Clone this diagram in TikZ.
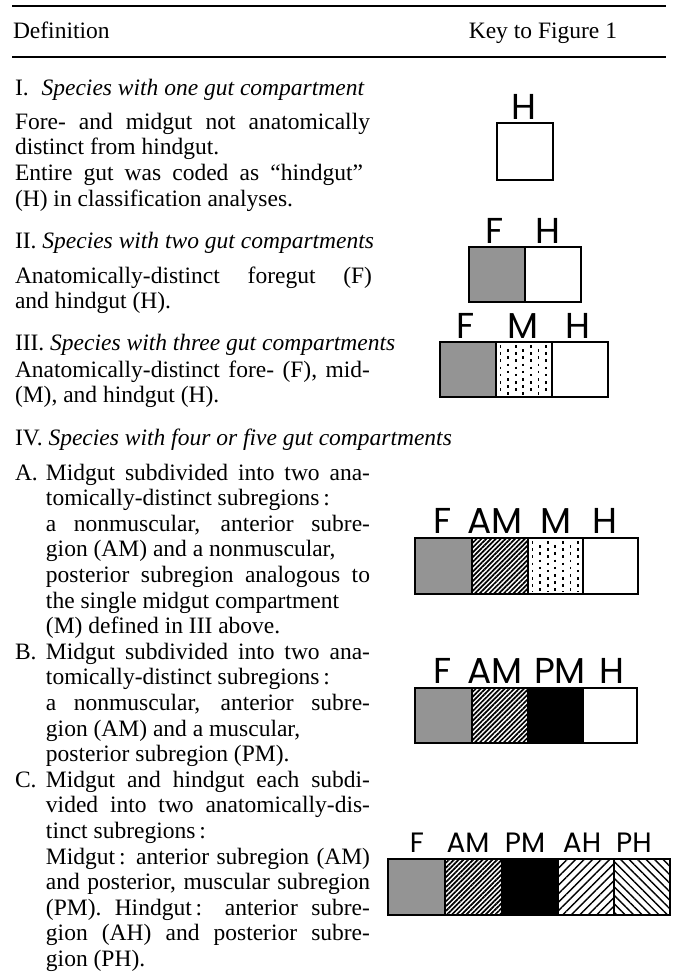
\documentclass[tikz,border=0pt]{standalone}
\usepackage{fontspec}
\setmainfont{Liberation Serif}
\newfontfamily\keyfont{Poppins}
\usetikzlibrary{patterns.meta}
\newcommand\jl[2]{\hbox to #1pt{#2}}
\newcommand\nl[1]{\hbox{#1}}
\newcommand\mdots[4]{%
  \foreach \k in {0,...,6}{%
    \pgfmathsetmacro\xx{#1+4.5+\k*7.6}%
    \pgfmathsetmacro\ph{mod(\k,2)*3}%
    \draw[mdot,dash phase=\ph pt] (\xx,#2+3) -- (\xx,#4-2);}}
\begin{document}
\begin{tikzpicture}[x=1pt,y=-1pt,
  txt/.style={anchor=base west,inner sep=0pt,outer sep=0pt,font=\fontsize{23.5}{25.6}\selectfont},
  lab/.style={anchor=base,inner sep=0pt,font=\keyfont\fontsize{36}{36}\selectfont},
  labs/.style={anchor=base,inner sep=0pt,font=\keyfont\fontsize{28}{28}\selectfont},
  box/.style={draw=black,line width=2.6pt,line join=miter},
  rulel/.style={draw=black,line width=1.3pt},
  foref/.style={fill=black!42},
  antm/.style={pattern={Lines[angle=45,distance=3.4pt,line width=1.7pt]}},
  posm/.style={fill=black},
  anth/.style={pattern={Lines[angle=45,distance=6pt,line width=1.4pt]}},
  posh/.style={pattern={Lines[angle=-45,distance=6pt,line width=1.4pt]}},
  mdot/.style={line width=1.9pt,dash pattern=on 2.6pt off 4.6pt}]
\useasboundingbox (0,0) rectangle (675,977);
\fill[white] (0,0) rectangle (675,977);
% header
\draw[rulel] (12,6) -- (666,6);
\draw[rulel] (12,57) -- (666,57);
\node[txt] (hdef) at (13,38) {Definition};
\node[txt,anchor=base east] (hkey) at (617,38) {Key to Figure 1};
% I
\node[txt] (t1h) at (15,95) {I.\hspace{0.55em}\textit{Species with one gut compartment}};
\node[txt] (t1) at (15,129) {\vtop{\baselineskip=25.7pt
  \jl{355}{Fore- and midgut not anatomically}
  \nl{distinct from hindgut.}
  \jl{348}{Entire gut was coded as “hindgut”}
  \nl{(H) in classification analyses.}}};
% II
\node[txt] (t2h) at (15,248) {II. \textit{Species with two gut compartments}};
\node[txt] (t2) at (15,283) {\vtop{\baselineskip=25.6pt
  \jl{357}{Anatomically-distinct foregut (F)}
  \nl{and hindgut (H).}}};
% III
\node[txt] (t3h) at (15,350) {III. \textit{Species with three gut compartments}};
\node[txt] (t3) at (15,377) {\vtop{\baselineskip=25.6pt
  \jl{355}{Anatomically-distinct fore- (F), mid-}
  \nl{(M), and hindgut (H).}}};
% IV
\node[txt] (t4h) at (15,445) {IV. \textit{Species with four or five gut compartments}};
\node[txt] (t4a) at (15,480) {\vtop{\baselineskip=25.6pt
  \jl{355}{\hbox to 31pt{A.\hfil}Midgut subdivided into two ana-}
  \nl{\hspace{31pt}tomically-distinct subregions\,:}
  \jl{355}{\hspace{31pt}a nonmuscular, anterior subre-}
  \nl{\hspace{31pt}gion (AM) and a nonmuscular,}
  \jl{355}{\hspace{31pt}posterior subregion analogous to}
  \nl{\hspace{31pt}the single midgut compartment}
  \nl{\hspace{31pt}(M) defined in III above.}}};
\node[txt] (t4b) at (15,659.2) {\vtop{\baselineskip=25.6pt
  \jl{355}{\hbox to 31pt{B.\hfil}Midgut subdivided into two ana-}
  \nl{\hspace{31pt}tomically-distinct subregions\,:}
  \jl{355}{\hspace{31pt}a nonmuscular, anterior subre-}
  \nl{\hspace{31pt}gion (AM) and a muscular,}
  \nl{\hspace{31pt}posterior subregion (PM).}}};
\node[txt] (t4c) at (15,787.2) {\vtop{\baselineskip=25.6pt
  \jl{355}{\hbox to 31pt{C.\hfil}Midgut and hindgut each subdi-}
  \jl{355}{\hspace{31pt}vided into two anatomically-dis-}
  \nl{\hspace{31pt}tinct subregions\,:}
  \jl{355}{\hspace{31pt}Midgut\,: anterior subregion (AM)}
  \jl{355}{\hspace{31pt}and posterior, muscular subregion}
  \jl{355}{\hspace{31pt}(PM). Hindgut\,: anterior subre-}
  \jl{355}{\hspace{31pt}gion (AH) and posterior subre-}
  \nl{\hspace{31pt}gion (PH).}}};
% ---- key I
\node[lab] (k1h) at (524,119) {H};
\draw[box] (497,123) rectangle (553,180);
% ---- key II
\fill[foref] (469,247) rectangle (525,302);
\draw[box] (525,247) -- (525,302);
\draw[box] (469,247) rectangle (581,302);
\node[lab] (k2f) at (495,243) {F};
\node[lab] (k2h) at (548,243) {H};
% ---- key III
\fill[foref] (440,342) rectangle (496,397);
\mdots{496}{342}{552}{397}
\draw[box] (496,342) -- (496,397);
\draw[box] (552,342) -- (552,397);
\draw[box] (440,342) rectangle (608,397);
\node[lab] (k3f) at (466,338) {F};
\node[lab] (k3m) at (523,338) {M};
\node[lab] (k3h) at (578,338) {H};
% ---- key IV A
\fill[foref] (415,538) rectangle (472,594);
\fill[antm] (472,538) rectangle (528,594);
\mdots{528}{538}{583}{594}
\draw[box] (472,538) -- (472,594);
\draw[box] (528,538) -- (528,594);
\draw[box] (583,538) -- (583,594);
\draw[box] (415,538) rectangle (638,594);
\node[lab] (k4af) at (443,533) {F};
\node[lab] (k4aam) at (495,533) {AM};
\node[lab] (k4am) at (556,533) {M};
\node[lab] (k4ah) at (605,533) {H};
% ---- key IV B
\fill[foref] (415,688) rectangle (472,743);
\fill[antm] (472,688) rectangle (528,743);
\fill[posm] (528,688) rectangle (583,743);
\draw[box] (472,688) -- (472,743);
\draw[box] (528,688) -- (528,743);
\draw[box] (583,688) -- (583,743);
\draw[box] (415,688) rectangle (637,743);
\node[lab] (k4bf) at (443,683) {F};
\node[lab] (k4bam) at (495,683) {AM};
\node[lab] (k4bpm) at (560,683) {PM};
\node[lab] (k4bh) at (612,683) {H};
% ---- key IV C
\fill[foref] (388,859) rectangle (445,915);
\fill[antm] (445,859) rectangle (502,915);
\fill[posm] (502,859) rectangle (558,915);
\fill[anth] (558,859) rectangle (614,915);
\fill[posh] (614,859) rectangle (670,915);
\draw[box] (445,859) -- (445,915);
\draw[box] (502,859) -- (502,915);
\draw[box] (558,859) -- (558,915);
\draw[box] (614,859) -- (614,915);
\draw[box] (388,859) rectangle (670,915);
\node[labs] (k4cf) at (417,852) {F};
\node[labs] (k4cam) at (468,852) {AM};
\node[labs] (k4cpm) at (525,852) {PM};
\node[labs] (k4cah) at (582,852) {AH};
\node[labs] (k4cph) at (634,852) {PH};
\end{tikzpicture}
\end{document}
